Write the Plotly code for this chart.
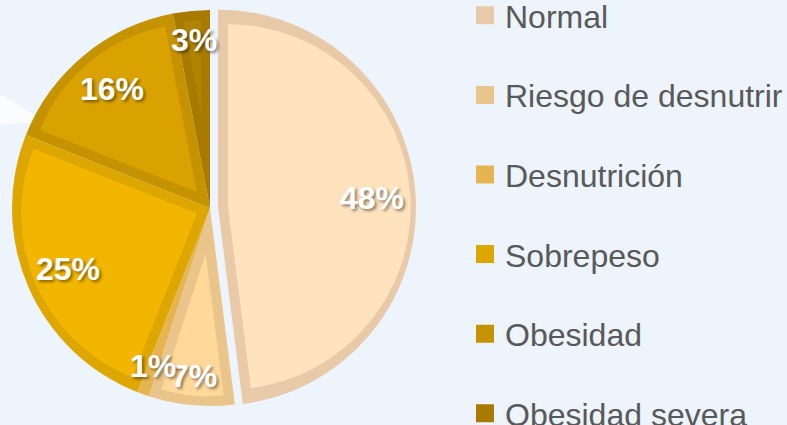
import math
import plotly.graph_objects as go

# ---------------- data ----------------
categories = ["Normal", "Riesgo de desnutrir", "Desnutrición", "Sobrepeso", "Obesidad", "Obesidad severa"]
percentages = [48, 7, 1, 25, 16, 3]

# ---------------- styles ----------------
fill_colors = ["#FFE3BE", "#FFD89A", "#F4C265", "#F2B600", "#D9A200", "#B08300"]
border_colors = ["#E8CAA8", "#EAC58B", "#E6B551", "#DDA600", "#C59300", "#A87A00"]
pulled = [True, False, False, False, False, False]

BG = "#EDF4FC"
FONT = "Arial, Liberation Sans, sans-serif"
W, H = 787, 470          # figure taller than window: bottom legend row is cut like the reference
CX, CY, R = 210, 208, 198
BORDER = 10
PULL_PX = 8


def px_x(x):
    return x / W


def px_y(y):
    return 1 - y / H


total = sum(percentages)
fig = go.Figure()

# base layer: whole pie in border colours
pulls = [PULL_PX / R if p else 0 for p in pulled]
half = R * (1 + max(pulls))
fig.add_trace(go.Pie(
    values=percentages, labels=categories, sort=False, direction="clockwise", rotation=0,
    marker=dict(colors=border_colors, line=dict(width=0)), pull=pulls,
    textinfo="none", hoverinfo="label+percent", showlegend=False,
    domain=dict(x=[px_x(CX - half), px_x(CX + half)], y=[px_y(CY + half), px_y(CY - half)]),
))

# inner layer: each slice inset to leave an inner border
start = 0
for i, v in enumerate(percentages):
    hlf = v / total * math.pi
    t = BORDER / math.sin(hlf)
    r_i = R - BORDER - t * (1 + math.cos(hlf)) / 2
    offset = t + (PULL_PX if pulled[i] else 0)
    if r_i > 4:
        dh = r_i + offset
        if offset > r_i:          # plotly caps pull at 1
            r_i = offset = dh / 2
        fig.add_trace(go.Pie(
            values=[v, total - v], labels=[categories[i], "_rest"], sort=False,
            direction="clockwise", rotation=start / total * 360,
            marker=dict(colors=[fill_colors[i], "rgba(0,0,0,0)"], line=dict(width=0)),
            pull=[offset / r_i, 0], textinfo="none", hoverinfo="skip", showlegend=False,
            domain=dict(x=[px_x(CX - dh), px_x(CX + dh)], y=[px_y(CY + dh), px_y(CY - dh)]),
        ))
    start += v

# percentage labels (small slices get their label nearer the rim)
start = 0
for i, v in enumerate(percentages):
    mid = (start + v / 2) / total * 2 * math.pi
    frac = 0.85 if v / total < 0.1 else 0.78
    rr = frac * R + (PULL_PX if pulled[i] else 0)
    x = CX + rr * math.sin(mid)
    y = CY - rr * math.cos(mid)
    fig.add_annotation(
        x=px_x(x), y=px_y(y), xref="paper", yref="paper", text=f"{v}%", showarrow=False,
        xanchor="center", yanchor="middle",
        font=dict(family=FONT, size=32, color="white", weight="bold",
                  shadow="2px 2px 3px rgba(0,0,0,0.45)"),
    )
    start += v

# legend entries
for i, c in enumerate(categories):
    fig.add_trace(go.Scatter(
        x=[None], y=[None], mode="markers", name=c, legendgroup=c, showlegend=True,
        marker=dict(symbol="square", size=16, color=border_colors[i],
                    line=dict(width=2, color=border_colors[i])),
        hoverinfo="skip",
    ))

fig.update_layout(
    width=W, height=H, margin=dict(l=0, r=0, t=0, b=0, autoexpand=False),
    paper_bgcolor=BG, plot_bgcolor=BG,
    xaxis=dict(visible=False), yaxis=dict(visible=False),
    showlegend=True,
    legend=dict(x=px_x(465), xanchor="left", y=px_y(214.5), yanchor="middle",
                font=dict(family=FONT, size=32, color="#595959"),
                tracegroupgap=35, bgcolor="rgba(0,0,0,0)", borderwidth=0),
    shapes=[dict(type="path", xref="paper", yref="paper", layer="below",
                 path=f"M {px_x(0)},{px_y(94)} L {px_x(45)},{px_y(121)} L {px_x(0)},{px_y(125)} Z",
                 fillcolor="#FAFCFE", line=dict(width=0))],
)

fig.write_html("out.html",
               post_script="document.body.style.overflow='hidden';document.body.style.margin='0';")
